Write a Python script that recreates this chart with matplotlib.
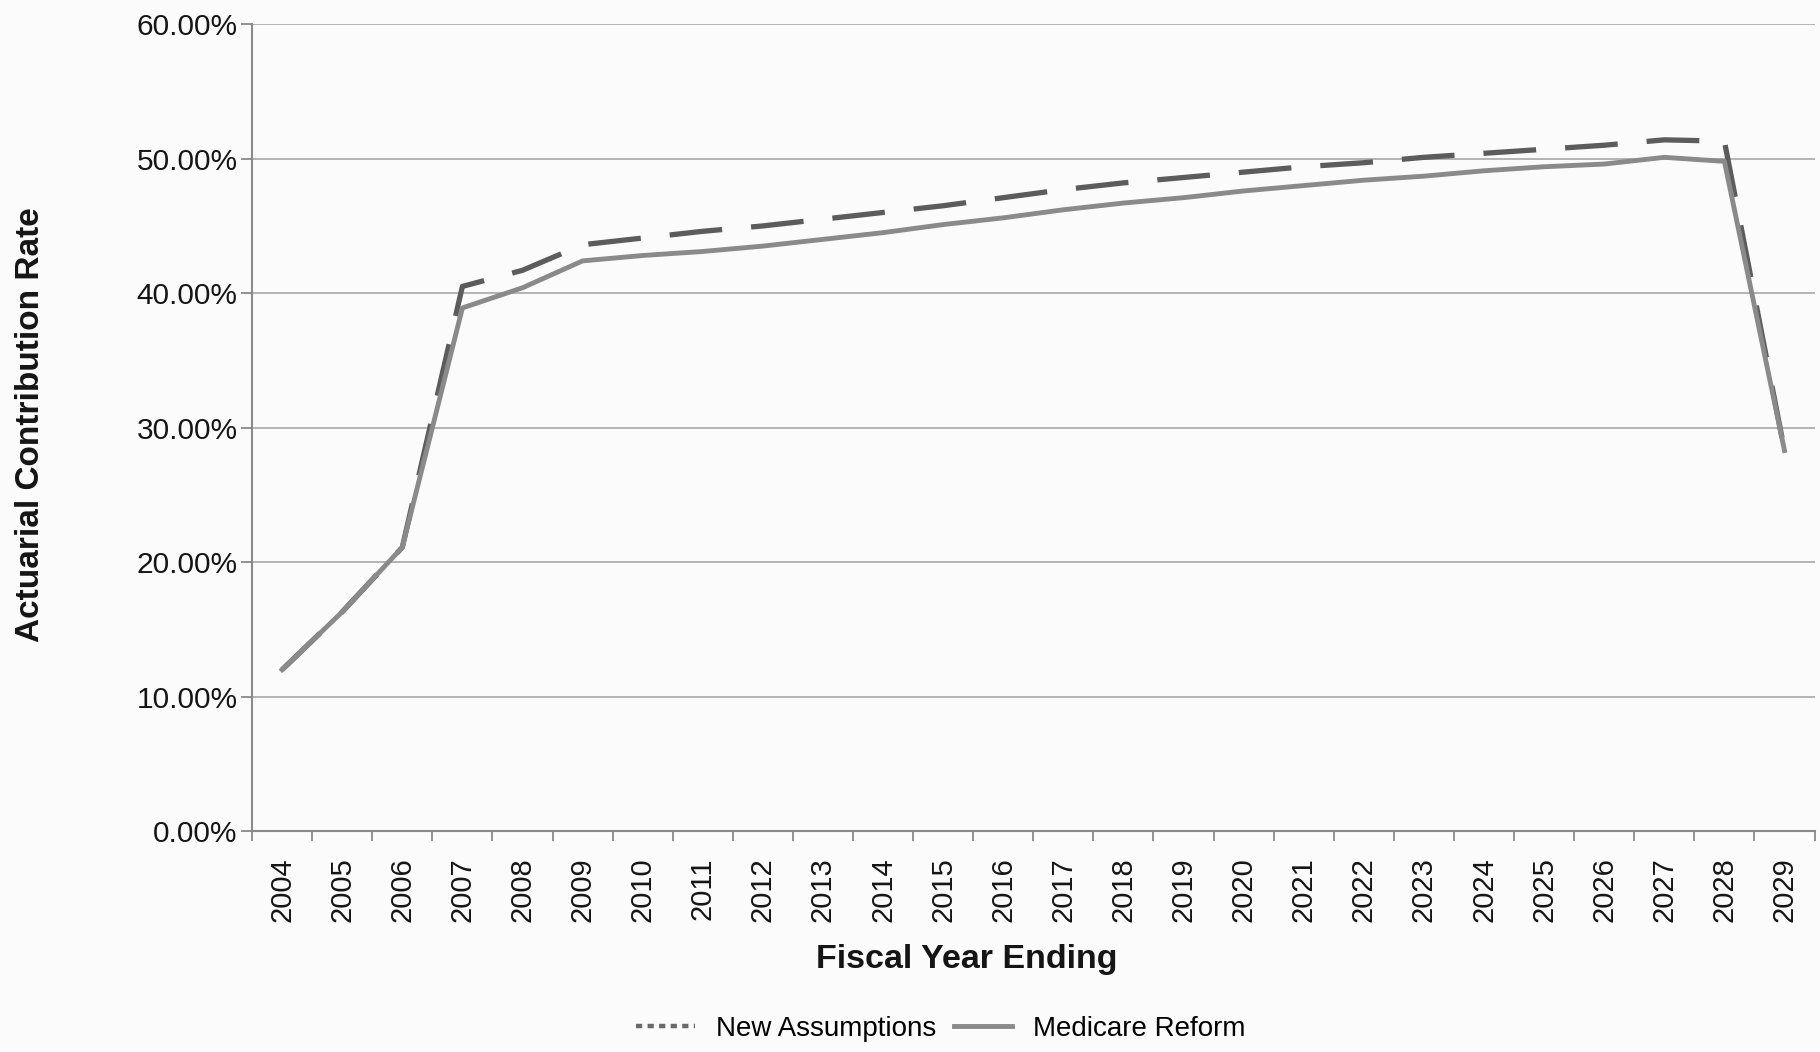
import matplotlib
matplotlib.use("Agg")
import matplotlib.pyplot as plt
from matplotlib.lines import Line2D
from matplotlib.ticker import FuncFormatter, FixedLocator

plt.rcParams['font.family'] = ['Liberation Sans', 'DejaVu Sans']

# Fiscal years and contribution rates (percent)
years = list(range(2004, 2030))
new_assumptions = [12.0, 16.3, 21.1, 40.5, 41.7, 43.6, 44.1, 44.6, 45.0, 45.5,
                   46.0, 46.5, 47.1, 47.7, 48.2, 48.6, 49.0, 49.4, 49.7, 50.1,
                   50.4, 50.7, 51.0, 51.4, 51.3, 28.3]
medicare_reform = [12.0, 16.3, 21.1, 38.9, 40.4, 42.4, 42.8, 43.1, 43.5, 44.0,
                   44.5, 45.1, 45.6, 46.2, 46.7, 47.1, 47.6, 48.0, 48.4, 48.7,
                   49.1, 49.4, 49.6, 50.1, 49.8, 28.3]
y_ticks = [0, 10, 20, 30, 40, 50, 60]

bg = '#fbfbfb'
axis_grey = '#8a8a8a'

fig = plt.figure(figsize=(18.2, 10.52), dpi=100, facecolor=bg)
ax = fig.add_axes([0.1385, 0.210, 0.8585, 0.767])
ax.set_facecolor(bg)

x = list(range(len(years)))
ax.plot(x, new_assumptions, color='#5c5c5c', lw=3.8, dashes=(10, 5.5),
        solid_capstyle='butt', dash_capstyle='butt', zorder=3)
ax.plot(x, medicare_reform, color='#8a8a8a', lw=3.5, zorder=4)

ax.set_xlim(-0.5, len(years) - 0.5)
ax.set_ylim(0, 60)

# y axis: percent labels with gridlines
ax.set_yticks(y_ticks)
ax.yaxis.set_major_formatter(FuncFormatter(lambda v, p: f"{v:.2f}%"))
ax.grid(axis='y', color='#a8a8a8', lw=1.2, zorder=1)
ax.tick_params(axis='y', direction='out', length=8, width=1.3, color=axis_grey,
               labelsize=21.5, pad=2.5, labelcolor='#151515')

# x axis: labels at category centres, tick marks between categories
ax.set_xticks(x)
ax.set_xticklabels([str(y) for y in years], rotation=90)
ax.xaxis.set_minor_locator(FixedLocator([i - 0.5 for i in range(len(years) + 1)]))
ax.tick_params(axis='x', which='major', length=0, labelsize=21, pad=19,
               labelcolor='#151515')
ax.tick_params(axis='x', which='minor', direction='out', length=7, width=1.3,
               color=axis_grey)

for side in ['top', 'right']:
    ax.spines[side].set_visible(False)
for side in ['left', 'bottom']:
    ax.spines[side].set_color(axis_grey)
    ax.spines[side].set_linewidth(1.5)

fig.text(0.017, 0.596, "Actuarial Contribution Rate", rotation=90,
         ha='center', va='center', fontsize=24, fontweight='bold', color='#151515')
fig.text(0.531, 0.088, "Fiscal Year Ending", ha='center', va='center',
         fontsize=24.5, fontweight='bold', color='#151515')

handles = [Line2D([], [], color='#6a6a6a', lw=3.2, dashes=(1.4, 1.2)),
           Line2D([], [], color='#8a8a8a', lw=3.5)]
fig.legend(handles, ["New Assumptions", "Medicare Reform"], loc='center',
           bbox_to_anchor=(0.517, 0.022), ncol=2, frameon=False, fontsize=20,
           handlelength=2.1, handletextpad=0.75, columnspacing=0.65)

fig.savefig("out.png", dpi=100, facecolor=bg)
